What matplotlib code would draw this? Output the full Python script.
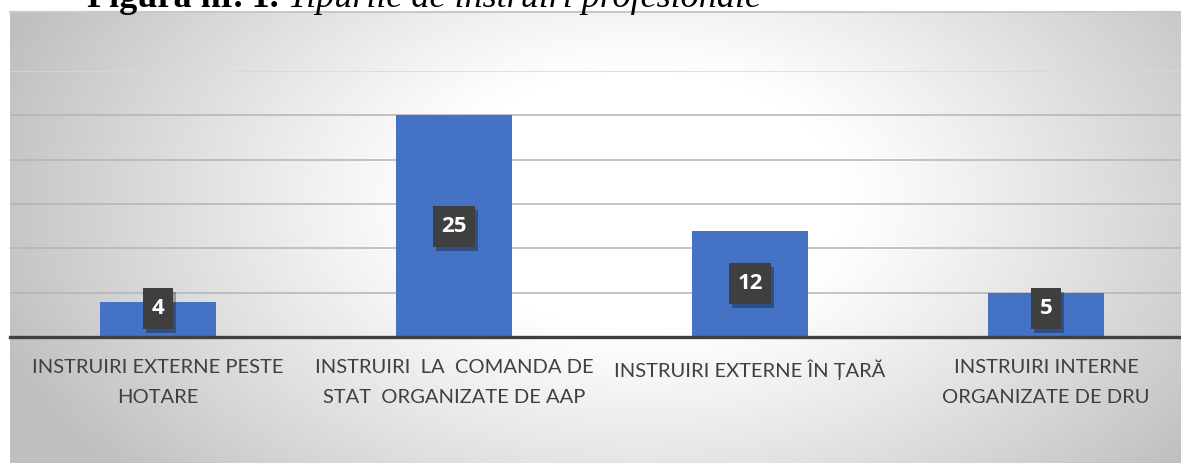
import numpy as np
import matplotlib
matplotlib.use("Agg")
import matplotlib.pyplot as plt
import matplotlib.patheffects as pe
from matplotlib.patches import Rectangle

# ---- data ----
categories = [
    "INSTRUIRI EXTERNE PESTE\nHOTARE",
    "INSTRUIRI  LA  COMANDA DE\nSTAT  ORGANIZATE DE AAP",
    "INSTRUIRI EXTERNE ÎN ȚARĂ",
    "INSTRUIRI INTERNE\nORGANIZATE DE DRU",
]
values = [4, 25, 12, 5]
title_bold = "Figura nr. 1."
title_italic = "Tipurile de instruiri profesionale"

W, H = 1181, 463
fig = plt.figure(figsize=(W / 100, H / 100), dpi=100)
fig.patch.set_facecolor("white")

# ---- gradient background of chart area ----
bx0, by_top = 10, 12
bg = fig.add_axes([bx0 / W, 0, (W - bx0) / W, (H - by_top) / H])
bg.set_axis_off()
xs = np.arange(bx0, W)
ys = np.arange(by_top, H)
X, Y = np.meshgrid(xs, ys)
r = np.sqrt(((X - 640) / 680.0) ** 2 + ((Y - 200) / 430.0) ** 2)
t = np.clip((r - 0.30) / 0.70, 0, 1) ** 1.1
g = 1 - 0.25 * t
img = np.dstack([g, g, g])
bg.imshow(img, aspect="auto", extent=[0, 1, 0, 1], origin="upper")
bg.set_xlim(0, 1)
bg.set_ylim(0, 1)
bg.axhline(1, color="#c8c8c8", lw=1.5, clip_on=False)

# ---- main axes ----
base_px = 337
top_px = 71
left_px, right_px = 10, 1194
ax = fig.add_axes([left_px / W, (H - base_px) / H, (right_px - left_px) / W,
                   (base_px - top_px) / H])
ax.patch.set_alpha(0)
ax.set_xlim(-0.5, len(values) - 0.5)
ax.set_ylim(0, 30)
for s in ax.spines.values():
    s.set_visible(False)
ax.set_yticks([])
for yv in range(5, 30, 5):
    ax.axhline(yv, color="#b4b4b4", lw=1.1, zorder=1)
ax.axhline(30, color="#d8d8d8", lw=1.1, zorder=1)

x = np.arange(len(values))
ax.bar(x, values, width=0.395, color="#4472C4", zorder=2)
ax.axhline(0, color="#404040", lw=2.4, zorder=3, clip_on=False)

ax.set_xticks(x)
ax.set_xticklabels(categories, fontsize=14.5, color="#404040",
                   family=["Lato", "DejaVu Sans"], linespacing=1.93)
ax.tick_params(axis="x", length=0, pad=16)

label_texts = []
for xi, v in zip(x, values):
    txt = ax.text(xi, max(v / 2, 3.2), str(v), ha="center", va="center",
                  color="white", fontsize=16, fontweight="bold",
                  family=["Open Sans", "DejaVu Sans"], zorder=6)
    label_texts.append(txt)

# ---- title (partially cut at top, as in the reference) ----
ty = (H - 7) / H
tb = fig.text(87 / W, ty, title_bold + " ", fontsize=26, fontweight="bold",
              family=["Liberation Serif"], va="baseline", ha="left")
fig.canvas.draw()
bb = tb.get_window_extent()
fig.text(bb.x1 / W, ty, title_italic, fontsize=26, style="italic",
         family=["Liberation Serif"], va="baseline", ha="left")

# dark label boxes with shadow, sized around the numbers
padx, boxh = 8.5, 41
for txt in label_texts:
    e = txt.get_window_extent()
    cy = (e.y0 + e.y1) / 2
    rect = Rectangle((e.x0 - padx, cy - boxh / 2), e.width + 2 * padx, boxh,
                     transform=None, facecolor="#3f3f3f", edgecolor="none",
                     zorder=5)
    rect.set_path_effects([pe.withSimplePatchShadow(offset=(2, -3),
                                                     shadow_rgbFace="black",
                                                     alpha=0.3)])
    ax.add_artist(rect)

fig.savefig("out.png", dpi=100)
